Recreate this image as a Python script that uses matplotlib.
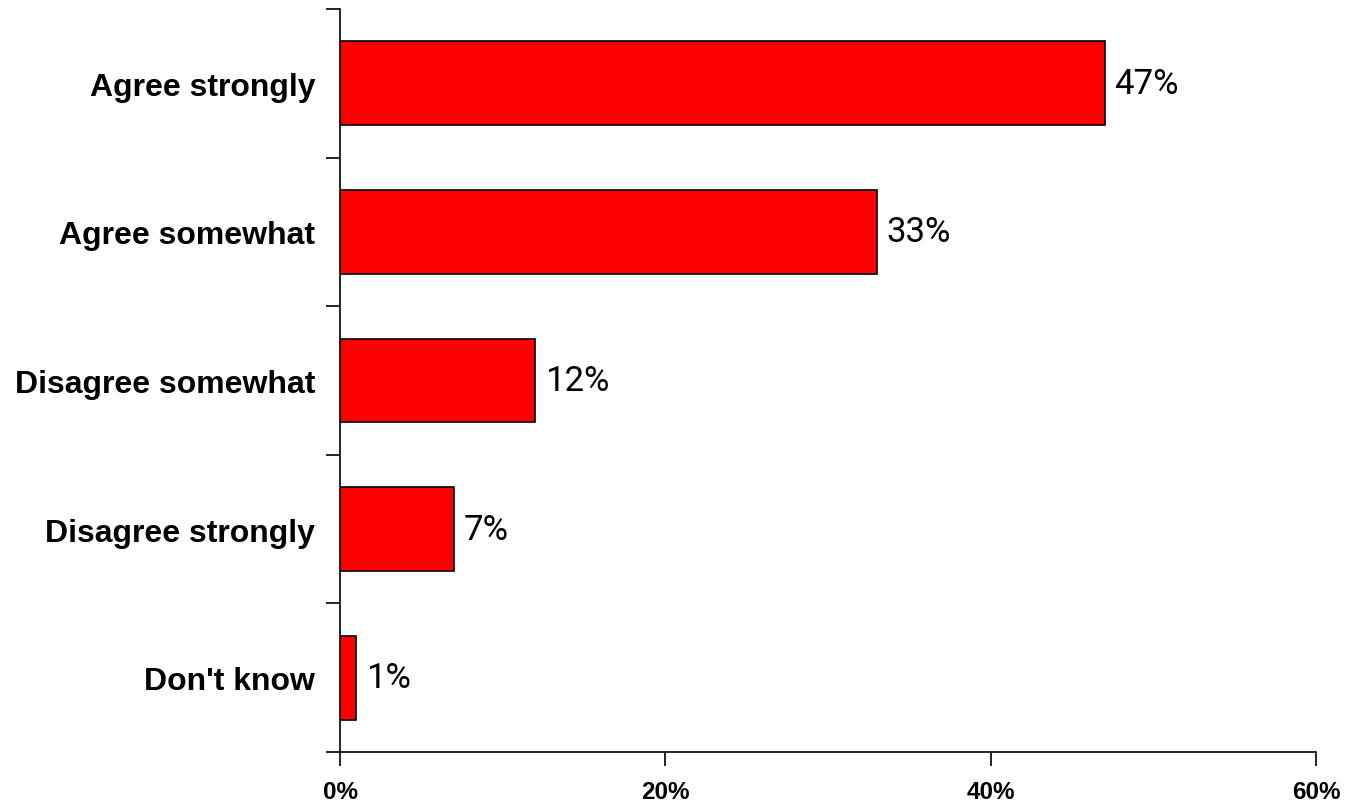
import matplotlib.pyplot as plt
import numpy as np
from matplotlib.ticker import FuncFormatter

categories = ['Agree strongly', 'Agree somewhat', 'Disagree somewhat',
              'Disagree strongly', "Don't know"]
values = [47, 33, 12, 7, 1]
xticks = [0, 20, 40, 60]

fig = plt.figure(figsize=(13.48, 8.03), dpi=100)
ax = fig.add_axes([340 / 1348, 50 / 803, 976 / 1348, 743 / 803])

pos = np.arange(len(categories))[::-1]
bars = ax.barh(pos, values, height=0.565, color='#ff0000',
               edgecolor='black', linewidth=1.2)

for p, v in zip(pos, values):
    ax.text(v + 0.6, p, f'{v}%', va='center', ha='left',
            fontsize=25, family=['Roboto', 'DejaVu Sans'])

ax.set_xlim(0, 60)
ax.set_ylim(-0.5, len(categories) - 0.5)
ax.set_xticks(xticks)
ax.xaxis.set_major_formatter(FuncFormatter(lambda x, _: f'{x:.0f}%'))

# category labels sit between the boundary ticks
ax.set_yticks(np.arange(len(categories) + 1) - 0.5)
ax.set_yticklabels([])
ax.set_yticks(pos, minor=True)
ax.set_yticklabels(categories, minor=True, fontsize=23, fontweight='bold',
                   family='Liberation Sans')
ax.tick_params(axis='y', which='minor', length=0, pad=18)
ax.tick_params(axis='y', which='major', length=10, width=1.2)
ax.tick_params(axis='x', length=10, width=1.2, pad=10)
for lab in ax.get_xticklabels():
    lab.set_fontsize(17.5)
    lab.set_fontweight('bold')
    lab.set_family('Liberation Sans')

ax.spines['top'].set_visible(False)
ax.spines['right'].set_visible(False)
ax.spines['left'].set_linewidth(1.2)
ax.spines['bottom'].set_linewidth(1.2)

fig.savefig('out.png', dpi=100)
